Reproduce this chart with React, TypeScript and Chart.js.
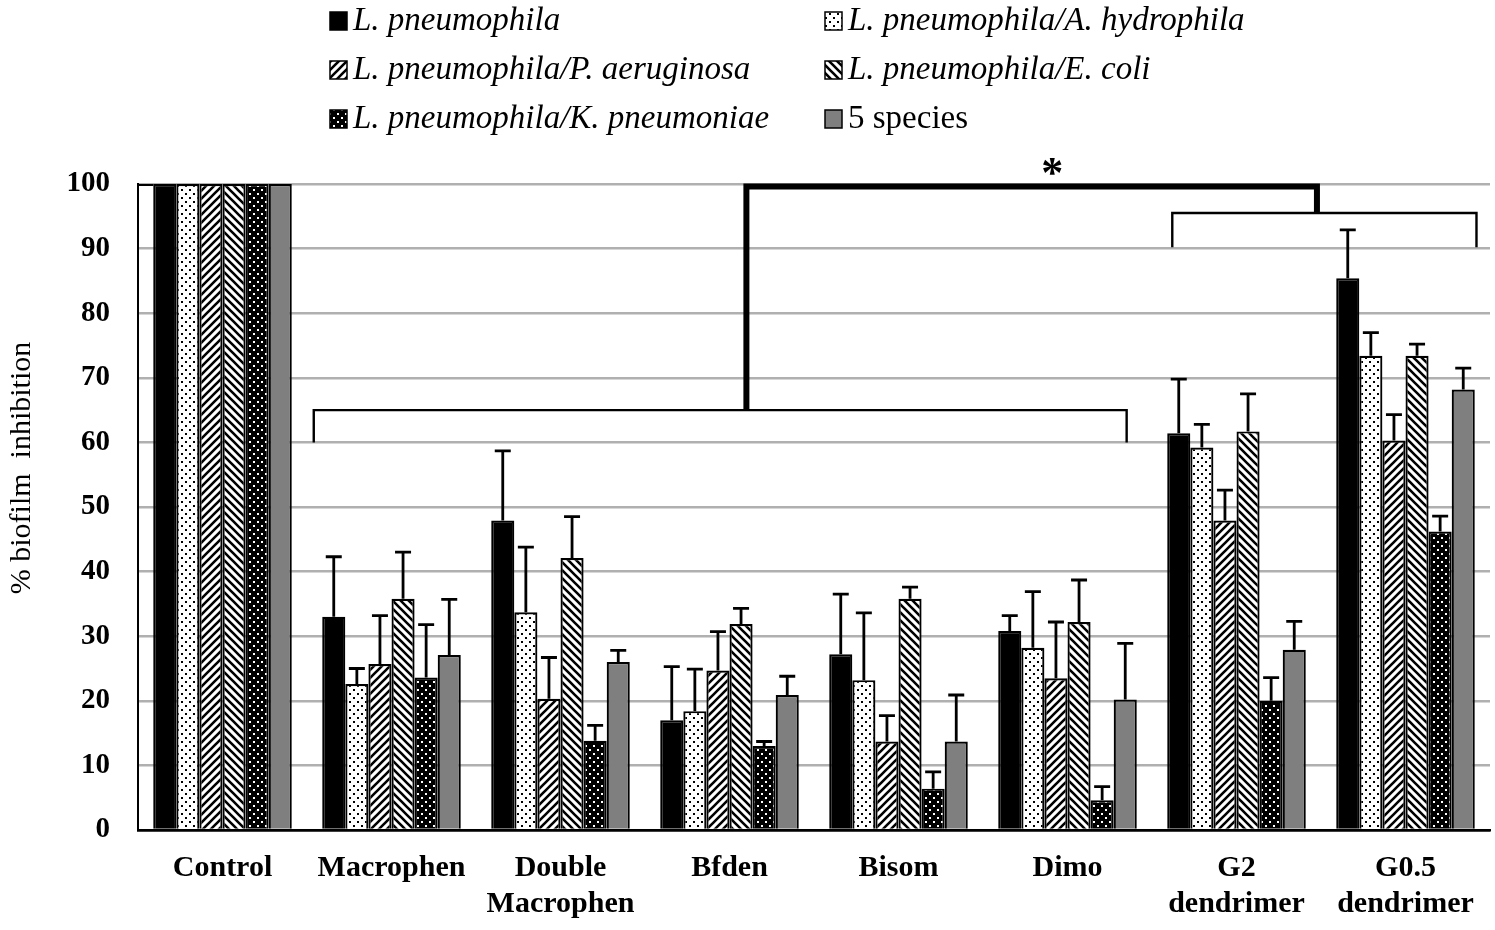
import React, { useEffect, useRef } from 'react';
import { Chart, registerables } from 'chart.js';

Chart.register(...registerables);

const FONT = '"Liberation Serif", "Times New Roman", serif';

const categories: (string | string[])[] = [
  'Control',
  'Macrophen',
  ['Double', 'Macrophen'],
  'Bfden',
  'Bisom',
  'Dimo',
  ['G2', 'dendrimer'],
  ['G0.5', 'dendrimer'],
];

const seriesNames = [
  'L. pneumophila',
  'L. pneumophila/A. hydrophila',
  'L. pneumophila/P. aeruginosa',
  'L. pneumophila/E. coli',
  'L. pneumophila/K. pneumoniae',
  '5 species',
];
const seriesItalic = [true, true, true, true, true, false];

const lpMean = [100, 33.0, 47.9, 17.0, 27.2, 30.8, 61.4, 85.4];
const lpErr = [0, 9.3, 10.8, 8.3, 9.3, 2.4, 8.4, 7.5];
const ahMean = [100, 22.6, 33.7, 18.4, 23.2, 28.2, 59.2, 73.4];
const ahErr = [0, 2.4, 10.1, 6.5, 10.4, 8.7, 3.6, 3.6];
const paMean = [100, 25.7, 20.3, 24.7, 13.7, 23.5, 47.9, 60.3];
const paErr = [0, 7.5, 6.4, 6.0, 4.0, 8.7, 4.7, 4.0];
const ecMean = [100, 35.8, 42.1, 31.9, 35.8, 32.2, 61.7, 73.4];
const ecErr = [0, 7.2, 6.4, 2.4, 1.8, 6.5, 5.8, 1.8];
const kpMean = [100, 23.6, 13.8, 13.0, 6.4, 4.6, 20.0, 46.2];
const kpErr = [0, 8.2, 2.4, 0.7, 2.6, 2.1, 3.6, 2.4];
const fiveMean = [100, 27.1, 26.0, 20.9, 13.7, 20.2, 27.9, 68.2];
const fiveErr = [0, 8.6, 1.8, 2.9, 7.2, 8.7, 4.4, 3.3];

const yMin = 0;
const yMax = 100;
const yStep = 10;
const yTitle = '% biofilm  inhibition';

// Significance brackets (category index units / value units)
const bracketLow = { from: 0.54, to: 5.35, y: 65, tickTo: 60, stem: 3.1 };
const bracketHigh = { from: 5.62, to: 7.42, y: 95.5, tickTo: 90.2, stem: 6.476 };
const bracketTop = { y: 99.6 };
const starPos = { x: 4.91, y: 101.2, text: '*' };

const means = [lpMean, ahMean, paMean, ecMean, kpMean, fiveMean];
const errs = [lpErr, ahErr, paErr, ecErr, kpErr, fiveErr];

function makePattern(kind: string): CanvasPattern | string {
  const s = 8;
  const c = document.createElement('canvas');
  c.width = s;
  c.height = s;
  const g = c.getContext('2d')!;
  if (kind === 'black') return '#000000';
  if (kind === 'gray') return '#7f7f7f';
  if (kind === 'dots' || kind === 'darkdots') {
    g.fillStyle = kind === 'dots' ? '#ffffff' : '#000000';
    g.fillRect(0, 0, s, s);
    g.fillStyle = kind === 'dots' ? '#000000' : '#ffffff';
    g.fillRect(1, 1, 2, 2);
    g.fillRect(5, 5, 2, 2);
  } else {
    g.fillStyle = '#ffffff';
    g.fillRect(0, 0, s, s);
    g.strokeStyle = '#000000';
    g.lineWidth = 2.6;
    g.beginPath();
    if (kind === 'fwd') {
      g.moveTo(-1, 1); g.lineTo(1, -1);
      g.moveTo(0, s); g.lineTo(s, 0);
      g.moveTo(s - 1, s + 1); g.lineTo(s + 1, s - 1);
    } else {
      g.moveTo(0, 0); g.lineTo(s, s);
      g.moveTo(-1, s - 1); g.lineTo(1, s + 1);
      g.moveTo(s - 1, -1); g.lineTo(s + 1, 1);
    }
    g.stroke();
  }
  return g.createPattern(c, 'repeat')!;
}

const patternKinds = ['black', 'dots', 'fwd', 'back', 'darkdots', 'gray'];

export default function App() {
  const ref = useRef<HTMLCanvasElement | null>(null);

  useEffect(() => {
    const canvas = ref.current;
    if (!canvas) return;
    const fills = patternKinds.map((k) => makePattern(k));

    const errorBars = {
      id: 'errorBars',
      afterDatasetsDraw(chart: any) {
        const ctx = chart.ctx;
        const ys = chart.scales.y;
        ctx.save();
        ctx.strokeStyle = '#000';
        ctx.lineWidth = 2.8;
        chart.data.datasets.forEach((ds: any, di: number) => {
          const meta = chart.getDatasetMeta(di);
          meta.data.forEach((bar: any, i: number) => {
            const e = errs[di][i];
            if (!e) return;
            const v = ds.data[i];
            const y0 = ys.getPixelForValue(v);
            const y1 = ys.getPixelForValue(v + e);
            ctx.beginPath();
            ctx.moveTo(bar.x, y0);
            ctx.lineTo(bar.x, y1);
            ctx.moveTo(bar.x - 8, y1);
            ctx.lineTo(bar.x + 8, y1);
            ctx.stroke();
          });
        });
        ctx.restore();
      },
    };

    const annotations = {
      id: 'annotations',
      afterDraw(chart: any) {
        const ctx = chart.ctx;
        const xs = chart.scales.x;
        const ys = chart.scales.y;
        const X = (v: number) => xs.getPixelForValue(v);
        const Y = (v: number) => ys.getPixelForValue(v);
        ctx.save();
        ctx.strokeStyle = '#000';
        ctx.lineCap = 'butt';

        // top outline of control group
        const firstMeta = chart.getDatasetMeta(0);
        const b0 = firstMeta.data[0] as any;
        ctx.lineWidth = 2;
        ctx.beginPath();
        ctx.moveTo(chart.chartArea.left, Y(yMax) + 1);
        ctx.lineTo(b0.x - b0.width / 2, Y(yMax) + 1);
        ctx.stroke();

        // thin brackets
        ctx.lineWidth = 2.4;
        for (const b of [bracketLow, bracketHigh]) {
          ctx.beginPath();
          ctx.moveTo(X(b.from), Y(b.tickTo));
          ctx.lineTo(X(b.from), Y(b.y));
          ctx.lineTo(X(b.to), Y(b.y));
          ctx.lineTo(X(b.to), Y(b.tickTo));
          ctx.stroke();
        }
        // thick connector
        ctx.lineWidth = 6;
        ctx.lineJoin = 'miter';
        ctx.beginPath();
        ctx.moveTo(X(bracketLow.stem), Y(bracketLow.y));
        ctx.lineTo(X(bracketLow.stem), Y(bracketTop.y));
        ctx.lineTo(X(bracketHigh.stem), Y(bracketTop.y));
        ctx.lineTo(X(bracketHigh.stem), Y(bracketHigh.y));
        ctx.stroke();

        // star
        ctx.fillStyle = '#000';
        ctx.font = `bold 44px ${FONT}`;
        ctx.textAlign = 'center';
        ctx.textBaseline = 'middle';
        ctx.fillText(starPos.text, X(starPos.x), Y(starPos.y) - 1);

        // y title
        ctx.save();
        ctx.translate(22, 468);
        ctx.rotate(-Math.PI / 2);
        ctx.font = `30px ${FONT}`;
        ctx.textAlign = 'center';
        ctx.textBaseline = 'middle';
        ctx.fillText(yTitle, 0, 0);
        ctx.restore();

        // legend
        const colX = [330, 825];
        const rowY = [21, 70, 119];
        seriesNames.forEach((name, i) => {
          const cx = colX[i % 2];
          const cy = rowY[Math.floor(i / 2)];
          ctx.fillStyle = fills[i] as any;
          ctx.fillRect(cx, cy - 9, 17, 18);
          ctx.lineWidth = 1.5;
          ctx.strokeStyle = '#000';
          ctx.strokeRect(cx, cy - 9, 17, 18);
          ctx.fillStyle = '#000';
          ctx.font = `${seriesItalic[i] ? 'italic ' : ''}33px ${FONT}`;
          ctx.textAlign = 'left';
          ctx.textBaseline = 'middle';
          ctx.fillText(name, cx + 23, cy);
        });
        ctx.restore();
      },
    };

    const chart = new Chart(canvas, {
      type: 'bar',
      data: {
        labels: categories as any,
        datasets: means.map((m, i) => ({
          label: seriesNames[i],
          data: m,
          backgroundColor: fills[i] as any,
          borderColor: '#000',
          borderWidth: 2.2,
          categoryPercentage: 0.82,
          barPercentage: 1.0,
        })),
      },
      options: {
        responsive: false,
        animation: false,
        devicePixelRatio: 1,
        layout: { padding: { top: 184, left: 0, right: 5, bottom: 0 } },
        plugins: {
          legend: { display: false },
          tooltip: { enabled: false },
          title: { display: false },
        },
        scales: {
          x: {
            type: 'category',
            offset: true,
            grid: { display: false, drawTicks: false },
            border: { display: true, color: '#000', width: 2.5 },
            ticks: {
              color: '#000',
              font: { family: FONT, size: 30, weight: 'bold' },
              padding: 20,
              maxRotation: 0,
              autoSkip: false,
            },
            afterFit(s: any) {
              s.height = 100;
            },
          },
          y: {
            min: yMin,
            max: yMax,
            ticks: {
              stepSize: yStep,
              color: '#000',
              font: { family: FONT, size: 29, weight: 'bold' },
              padding: 28,
            },
            grid: {
              drawTicks: false,
              lineWidth: 2.5,
              color: (c: any) => (c.tick && c.tick.value === 0 ? '#000' : '#b0b0b0'),
            },
            border: { display: true, color: '#000', width: 2 },
            afterFit(s: any) {
              s.width = 138;
            },
          },
        },
      },
      plugins: [errorBars, annotations],
    });

    return () => chart.destroy();
  }, []);

  return (
    <div style={{ position: 'absolute', left: 0, top: 0, width: 1495, height: 930, background: '#fff' }}>
      <canvas ref={ref} width={1495} height={930} />
    </div>
  );
}
